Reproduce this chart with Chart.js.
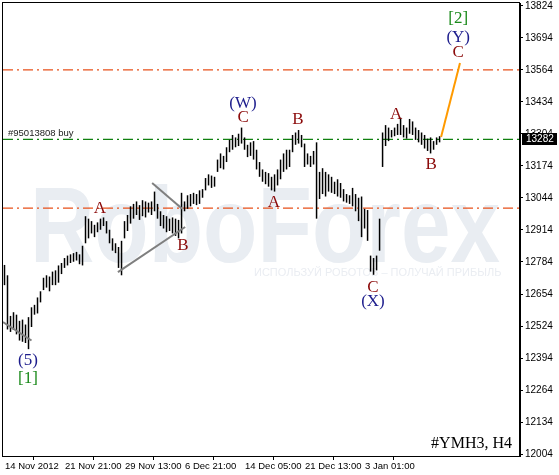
<!DOCTYPE html>
<html>
<head>
<meta charset="utf-8">
<title>#YMH3, H4</title>
<script src="https://cdn.jsdelivr.net/npm/chart.js@4.4.1/dist/chart.umd.min.js"></script>
<style>
    html, body { margin: 0; padding: 0; background: #fff; }
    #wrap { width: 559px; height: 475px; position: relative; }
</style>
</head>
<body>
<div id="wrap"><canvas id="chart"></canvas></div>
<script>
// H4 bars (high / low per bar)
const barHighs = [
    12772, 12730, 12565, 12580, 12570, 12545, 12550, 12530, 12560, 12600,
    12610, 12640, 12665, 12720, 12730, 12725, 12745, 12750, 12770, 12780,
    12800, 12810, 12815, 12820, 12825, 12815, 12850, 12970, 12960, 12950,
    12935, 12945, 12960, 12965, 12950, 12915, 12880, 12860, 12845, 12870,
    12950, 12975, 13010, 13020, 13030, 13015, 13035, 13030, 13025, 13030,
    13070, 13020, 12990, 12975, 12970, 12960, 12965, 12960, 12955, 13065,
    13030, 13055, 13060, 13065, 13060, 13075, 13080, 13125, 13140, 13135,
    13130, 13200, 13225, 13215, 13250, 13280, 13300, 13290, 13305, 13330,
    13290, 13260, 13270, 13275, 13240, 13190, 13160, 13150, 13145, 13130,
    13140, 13160, 13200, 13225, 13240, 13240, 13300, 13310, 13320, 13300,
    13265, 13225, 13215, 13235, 13270, 13150, 13165, 13150, 13140, 13130,
    13110, 13120, 13105, 13080, 13060, 13055, 13085, 13060, 13045, 13050,
    13000, 12995, 12810, 12800, 12810, 12960, 13310, 13340, 13330, 13320,
    13330, 13345, 13370, 13340, 13330, 13365, 13355, 13330, 13320, 13310,
    13300, 13285, 13290, 13275, 13290, 13295
];
const barLows = [
    12690, 12510, 12500, 12508, 12490, 12465, 12460, 12455, 12430, 12520,
    12570, 12575, 12620, 12670, 12680, 12665, 12690, 12690, 12700, 12735,
    12760, 12770, 12780, 12785, 12790, 12775, 12770, 12860, 12880, 12900,
    12885, 12905, 12915, 12930, 12900, 12860, 12830, 12820, 12760, 12730,
    12880, 12910, 12940, 12960, 12975, 12955, 12970, 12965, 12985, 12975,
    12990, 12960, 12930, 12920, 12905, 12910, 12900, 12890, 12880, 12900,
    12990, 13000, 13010, 13020, 13015, 13020, 13045, 13075, 13095, 13085,
    13090, 13150, 13165, 13160, 13190, 13230, 13240, 13250, 13255, 13265,
    13240, 13210, 13215, 13200, 13160, 13130, 13110, 13100, 13090, 13075,
    13070, 13095, 13120, 13150, 13160, 13170, 13230, 13260, 13265, 13250,
    13170, 13180, 13170, 13180, 12960, 13040, 13060, 13050, 13070, 13065,
    13060, 13050, 13045, 13030, 13025, 13020, 13010, 12990, 12950, 12885,
    12920, 12870, 12745, 12732, 12750, 12830, 13170, 13255, 13275, 13290,
    13295, 13300, 13300, 13290, 13285, 13305, 13300, 13280, 13270, 13260,
    13245, 13235, 13225, 13240, 13260, 13270
];

// axis ticks
const yTicks = [13824, 13694, 13564, 13434, 13304, 13174, 13044, 12914,
                12784, 12654, 12524, 12394, 12264, 12134, 12004];
const xTickBars = [0, 20, 40, 60, 80, 100, 120];
const xTickLabels = ['14 Nov 2012', '21 Nov 21:00', '29 Nov 13:00', '6 Dec 21:00',
                     '14 Dec 05:00', '21 Dec 13:00', '3 Jan 01:00'];

// horizontal levels
const redLevels = [13564, 13003];
const orderLevel = 13282;
const lastPrice = 13282;

// drawn trend lines [bar, price]
const trendLines = [
    [[-0.5, 12540], [9, 12465]],
    [[37.8, 12743], [60.2, 12926]],
    [[49.2, 13105], [59.2, 13000]]
];
const forecastLine = [[145.5, 13292], [151.8, 13592]];

// wave marks [text, bar, price, colour]
const waveLabels = [
    ['(5)', 7.8, 12382, 'blue'], ['[1]', 7.8, 12309, 'green'],
    ['A', 31.8, 13003, 'red'], ['B', 59.5, 12849, 'red'],
    ['(W)', 79.5, 13426, 'blue'], ['C', 79.5, 13369, 'red'],
    ['A', 89.8, 13024, 'red'], ['B', 97.8, 13361, 'red'],
    ['C', 122.8, 12682, 'red'], ['(X)', 122.8, 12622, 'blue'],
    ['A', 130.5, 13381, 'red'], ['B', 142.2, 13178, 'red'],
    ['[2]', 151.2, 13771, 'green'], ['(Y)', 151.2, 13694, 'blue'], ['C', 151.2, 13633, 'red']
];

const X_MIN = -0.5;
const X_MAX = 171.8;
const labelColors = { red: '#8b0a0a', blue: '#1c1c8c', green: '#1b8a1b' };
const tickFont = '9.5px "Liberation Sans", Arial, sans-serif';

const bars = barHighs.map((h, i) => ({ x: i, y: [barLows[i], h] }));

function levelData(price) {
    return [{ x: X_MIN, y: price }, { x: X_MAX, y: price }];
}

function lineData(pts) {
    return pts.map(p => ({ x: p[0], y: p[1] }));
}

const datasets = [];

redLevels.forEach(price => {
    datasets.push({
        type: 'line', data: levelData(price), borderColor: '#e8501a', borderWidth: 1.2,
        borderDash: [10, 4, 2, 4], pointRadius: 0, order: 5
    });
});
datasets.push({
    type: 'line', data: levelData(orderLevel), borderColor: '#0f800f', borderWidth: 1.2,
    borderDash: [10, 4, 2, 4], pointRadius: 0, order: 5
});
datasets.push({
    type: 'bar', data: bars, backgroundColor: '#000', barThickness: 1.5,
    inflateAmount: 0, grouped: false, order: 3
});
trendLines.forEach(t => {
    datasets.push({
        type: 'line', data: lineData(t), borderColor: '#7f7f7f', borderWidth: 2,
        pointRadius: 0, order: 1
    });
});
datasets.push({
    type: 'line', data: lineData(forecastLine), borderColor: '#ff9a00', borderWidth: 2,
    pointRadius: 0, order: 1
});

// watermark behind the bars
const watermarkPlugin = {
    id: 'watermark',
    beforeDatasetsDraw(chart) {
        const ctx = chart.ctx;
        ctx.save();
        ctx.fillStyle = '#e9edf2';
        ctx.font = 'bold 100px "Liberation Sans", Arial, sans-serif';
        ctx.textBaseline = 'alphabetic';
        const w = ctx.measureText('RoboForex').width;
        ctx.translate(30, 262);
        ctx.scale(470 / w, 1.08);
        ctx.fillText('RoboForex', 0, 0);
        ctx.restore();

        ctx.save();
        ctx.fillStyle = '#eaedf2';
        ctx.font = '11px "Liberation Sans", Arial, sans-serif';
        ctx.textBaseline = 'middle';
        ctx.fillText('ИСПОЛЬЗУЙ РОБОТОВ – ПОЛУЧАЙ ПРИБЫЛЬ', 254, 273);
        ctx.restore();
    }
};

// frame, x labels, wave marks, order text, price box, symbol
const overlayPlugin = {
    id: 'overlay',
    afterDraw(chart) {
        const ctx = chart.ctx;
        const area = chart.chartArea;
        const xs = chart.scales.x;
        const ys = chart.scales.y;

        ctx.save();
        ctx.strokeStyle = '#000';
        ctx.lineWidth = 1;
        ctx.strokeRect(area.left - 0.5, area.top - 0.5, area.right - area.left, area.bottom - area.top + 1);

        ctx.font = tickFont;
        ctx.fillStyle = '#000';
        ctx.textAlign = 'left';
        ctx.textBaseline = 'middle';
        xTickBars.forEach((b, k) => {
            ctx.fillText(xTickLabels[k], xs.getPixelForValue(b - 0.5) + 2, area.bottom + 10);
        });

        ctx.font = '17px "Liberation Serif", "Times New Roman", serif';
        ctx.textAlign = 'center';
        ctx.textBaseline = 'middle';
        waveLabels.forEach(l => {
            ctx.fillStyle = labelColors[l[3]];
            ctx.fillText(l[0], xs.getPixelForValue(l[1]), ys.getPixelForValue(l[2]));
        });

        ctx.font = tickFont;
        ctx.textAlign = 'left';
        ctx.textBaseline = 'alphabetic';
        ctx.fillStyle = '#222';
        ctx.fillText('#95013808 buy', 8, ys.getPixelForValue(orderLevel) - 3);

        ctx.font = '16px "Liberation Serif", "Times New Roman", serif';
        ctx.textAlign = 'right';
        ctx.fillStyle = '#000';
        ctx.fillText('#YMH3, H4', 512, 448);

        const py = Math.round(ys.getPixelForValue(lastPrice));
        ctx.fillStyle = '#000';
        ctx.fillRect(area.right + 2, py - 6, 35, 12);
        ctx.fillStyle = '#fff';
        ctx.font = '10px "Liberation Sans", Arial, sans-serif';
        ctx.textAlign = 'left';
        ctx.textBaseline = 'middle';
        ctx.fillText(String(lastPrice), area.right + 6, py);
        ctx.restore();
    }
};

new Chart(document.getElementById('chart'), {
    type: 'bar',
    data: { datasets: datasets },
    options: {
        responsive: true,
        maintainAspectRatio: false,
        animation: false,
        layout: { padding: { left: 3, top: 3, right: 0, bottom: 0 } },
        plugins: { legend: { display: false }, tooltip: { enabled: false } },
        scales: {
            x: {
                type: 'linear',
                position: 'bottom',
                offset: false,
                min: X_MIN,
                max: X_MAX,
                grid: { drawOnChartArea: false, drawTicks: true, tickLength: 4, color: '#000' },
                border: { display: true, color: '#000' },
                afterBuildTicks: scale => {
                    scale.ticks = xTickBars.map(v => ({ value: v - 0.5 }));
                },
                afterFit: scale => {
                    scale.height = 19;
                    scale.paddingLeft = 0;
                    scale.paddingRight = 0;
                },
                ticks: {
                    autoSkip: false,
                    maxRotation: 0,
                    color: 'rgba(0,0,0,0)',
                    font: { family: '"Liberation Sans", Arial, sans-serif', size: 9.5 },
                    callback: () => ''
                }
            },
            y: {
                type: 'linear',
                position: 'right',
                min: 11996,
                max: 13836,
                grid: { drawOnChartArea: false, drawTicks: true, tickLength: 3, color: '#000' },
                border: { display: true, color: '#000' },
                afterBuildTicks: scale => {
                    scale.ticks = yTicks.map(v => ({ value: v }));
                },
                afterFit: scale => {
                    scale.width = 39;
                    scale.paddingTop = 0;
                    scale.paddingBottom = 0;
                },
                ticks: {
                    padding: 2,
                    color: '#000',
                    font: { family: '"Liberation Sans", Arial, sans-serif', size: 10 },
                    callback: value => String(value)
                }
            }
        }
    },
    plugins: [watermarkPlugin, overlayPlugin]
});
</script>
</body>
</html>
